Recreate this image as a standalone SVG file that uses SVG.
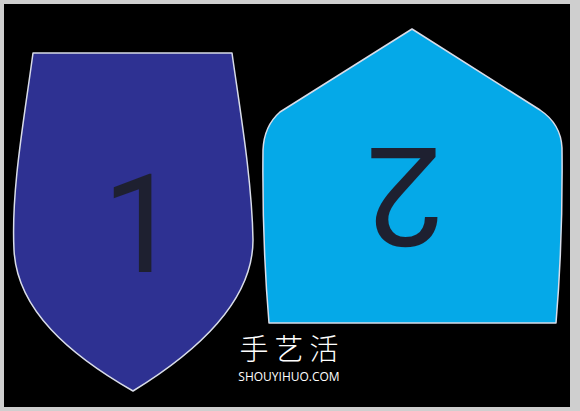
<svg xmlns="http://www.w3.org/2000/svg" width="580" height="411" viewBox="0 0 580 411">
<style>
.outline{stroke:#d8dce8;stroke-width:1.5;stroke-linejoin:round}
.num{font-family:Roboto,"Liberation Sans",sans-serif;font-size:138px;fill:#1e2030;text-anchor:middle}
.cn{font-family:"Noto Sans CJK SC",sans-serif;font-weight:300;font-size:29px;fill:#fff;text-anchor:middle;letter-spacing:6px}
.en{font-family:"Open Sans","Liberation Sans",sans-serif;font-size:12px;fill:#fff;text-anchor:middle}
</style>
<rect x="0" y="0" width="580" height="411" fill="#cfcfcf"/>
<rect x="4" y="4" width="566" height="403" fill="#000"/>
<g id="shield1">
<path class="outline" fill="#2e3192" d="M33,53 L232,53 C240,110 252,180 253,240 C253,300 200,350 133,391 C70,355 17,310 14,250 C11,190 24,120 33,53 Z"/>
<text class="num" x="141" y="272">1</text>
</g>
<g id="shape2">
<path class="outline" fill="#05a9e8" d="M412,29 L540,110 Q561,124 562,148 Q563,240 556,323 L269,323 Q262,240 263,150 Q264,126 280,112 Z"/>
<text class="num" x="405" y="248" transform="rotate(180 405 198)">2</text>
</g>
<g id="watermark">
<text class="cn" x="292" y="360">手艺活</text>
<text class="en" x="289" y="381">SHOUYIHUO.COM</text>
</g>
</svg>
